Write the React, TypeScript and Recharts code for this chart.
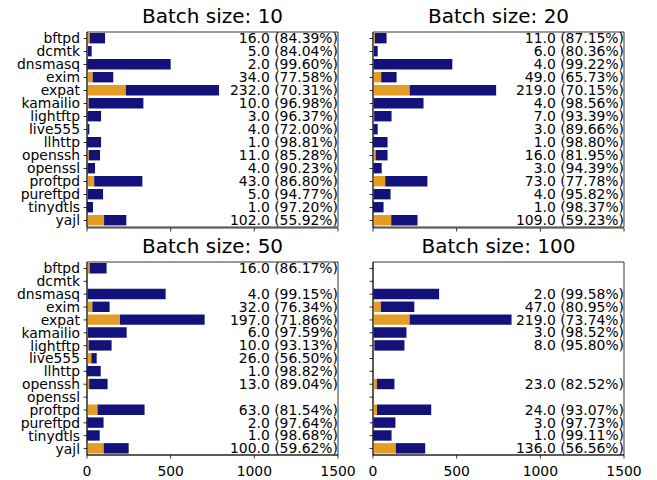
import * as React from 'react';
import { BarChart, Bar, XAxis, YAxis, ReferenceArea, LabelList } from 'recharts';

const subjects = [
  'bftpd', 'dcmtk', 'dnsmasq', 'exim', 'expat', 'kamailio', 'lightftp', 'live555',
  'llhttp', 'openssh', 'openssl', 'proftpd', 'pureftpd', 'tinydtls', 'yajl'
];
const xTicks = [0, 500, 1000, 1500];

// batch size 10
const found10 = [16, 5, 2, 34, 232, 10, 3, 4, 1, 11, 4, 43, 5, 1, 102];
const rest10 = [92, 23, 498, 123, 557, 327, 81, 10, 83, 67, 44, 288, 91, 35, 133];
const pct10 = [84.39, 84.04, 99.6, 77.58, 70.31, 96.98, 96.37, 72.0, 98.81, 85.28, 90.23, 86.8, 94.77, 97.2, 55.92];

// batch size 20
const found20 = [11, 6, 4, 49, 219, 4, 7, 3, 1, 16, 3, 73, 4, 1, 109];
const rest20 = [70, 22, 470, 92, 517, 298, 104, 25, 86, 71, 49, 252, 101, 62, 157];
const pct20 = [87.15, 80.36, 99.22, 65.73, 70.15, 98.56, 93.39, 89.66, 98.8, 81.95, 94.39, 77.78, 95.82, 98.37, 59.23];

// batch size 50
const found50 = [16, null, 4, 32, 197, 6, 10, 26, 1, 13, null, 63, 2, 1, 100];
const rest50 = [101, null, 466, 103, 506, 231, 137, 32, 81, 110, null, 281, 97, 75, 149];
const pct50 = [86.17, null, 99.15, 76.34, 71.86, 97.59, 93.13, 56.5, 98.82, 89.04, null, 81.54, 97.64, 98.68, 59.62];

// batch size 100
const found100 = [null, null, 2, 47, 219, 3, 8, null, null, 23, null, 24, 3, 1, 136];
const rest100 = [null, null, 393, 200, 609, 197, 180, null, null, 105, null, 324, 131, 110, 176];
const pct100 = [null, null, 99.58, 80.95, 73.74, 98.52, 95.8, null, null, 82.52, null, 93.07, 97.73, 99.11, 56.56];

const FONT = 'DejaVu Sans';
const ORANGE = '#e39c24';
const NAVY = '#12127a';

interface PanelProps {
  title: string;
  found: (number | null)[];
  rest: (number | null)[];
  pct: (number | null)[];
  left: number;
  top: number;
  isLeft: boolean;
  isBottom: boolean;
}

const Panel: React.FC<PanelProps> = ({ title, found, rest, pct, left, top, isLeft, isBottom }) => {
  const data = subjects.map((name, i) => ({
    name,
    found: found[i],
    rest: rest[i],
    pct: pct[i]
  }));

  const width = isLeft ? 362 : 312;
  const height = isBottom ? 240 : 260;
  const margin = {
    top: isBottom ? 22 : 32,
    right: isLeft ? 24 : 33,
    bottom: isBottom ? 0 : 2,
    left: isLeft ? 7 : 0
  };
  const yWidth = isLeft ? 80 : 28;
  const plotLeft = margin.left + yWidth;
  const plotRight = width - margin.right;

  // annotation at the right edge of the axes, looked up by subject name
  const renderNote = (props: any) => {
    const { y, height: h, value } = props;
    const i = subjects.indexOf(value);
    if (i < 0 || pct[i] == null || found[i] == null) return null;
    return (
      <text
        x={plotRight}
        y={y + h / 2}
        dy="0.355em"
        textAnchor="end"
        fontFamily={FONT}
        fontSize={13.9}
        fill="#000"
      >
        {`${(found[i] as number).toFixed(1)} (${(pct[i] as number).toFixed(2)}%)`}
      </text>
    );
  };

  return (
    <div style={{ position: 'absolute', left, top, width, height }}>
      <div
        style={{
          position: 'absolute',
          left: plotLeft,
          width: plotRight - plotLeft,
          top: margin.top - 26,
          textAlign: 'center',
          fontFamily: FONT,
          fontSize: 20,
          lineHeight: '20px',
          color: '#000',
          whiteSpace: 'nowrap'
        }}
      >
        {title}
      </div>
      <BarChart
        layout="vertical"
        width={width}
        height={height}
        data={data}
        margin={margin}
        barSize={10.4}
      >
        <XAxis
          type="number"
          domain={[0, 1500]}
          ticks={xTicks}
          height={isBottom ? 25 : 30}
          tickSize={3.5}
          tickMargin={8}
          axisLine={{ stroke: '#000', strokeWidth: 0.8 }}
          tickLine={{ stroke: '#000', strokeWidth: 0.8 }}
          tick={{ fontFamily: FONT, fontSize: 13.9, fill: '#000' }}
          tickFormatter={(v: number) => (isBottom ? String(v) : '')}
          allowDataOverflow
        />
        <YAxis
          type="category"
          dataKey="name"
          width={yWidth}
          interval={0}
          padding={{ top: 0, bottom: isBottom ? 0 : 1 }}
          tickSize={3.5}
          tickMargin={3.5}
          axisLine={{ stroke: '#000', strokeWidth: 0.8 }}
          tickLine={{ stroke: '#000', strokeWidth: 0.8 }}
          tick={{ fontFamily: FONT, fontSize: 13.9, fill: '#000' }}
          tickFormatter={(v: string) => (isLeft ? v : '')}
        />
        <Bar dataKey="found" stackId="a" fill={ORANGE} isAnimationActive={false} />
        <Bar dataKey="rest" stackId="a" fill={NAVY} isAnimationActive={false}>
          <LabelList dataKey="name" content={renderNote} />
        </Bar>
        <ReferenceArea
          x1={0}
          x2={1500}
          fill="none"
          fillOpacity={0}
          stroke="#000"
          strokeWidth={0.8}
          ifOverflow="visible"
        />
      </BarChart>
    </div>
  );
};

export default function App() {
  return (
    <div style={{ position: 'absolute', left: 0, top: 0, width: 657, height: 480, background: '#fff' }}>
      <Panel title="Batch size: 10" found={found10} rest={rest10} pct={pct10} left={0} top={0} isLeft isBottom={false} />
      <Panel title="Batch size: 20" found={found20} rest={rest20} pct={pct20} left={345} top={0} isLeft={false} isBottom={false} />
      <Panel title="Batch size: 50" found={found50} rest={rest50} pct={pct50} left={0} top={240} isLeft isBottom />
      <Panel title="Batch size: 100" found={found100} rest={rest100} pct={pct100} left={345} top={240} isLeft={false} isBottom />
    </div>
  );
}
